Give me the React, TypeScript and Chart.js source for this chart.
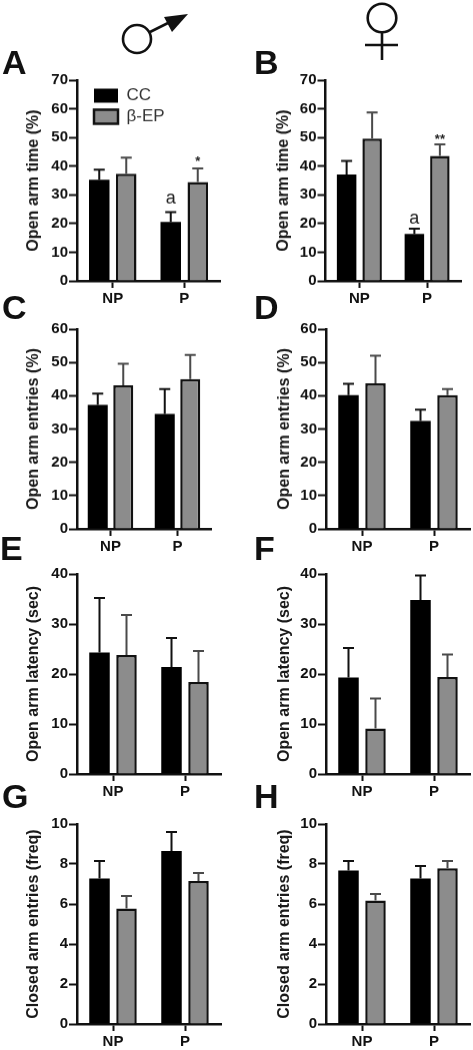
import React, { useEffect, useRef } from "react";
import { Chart, registerables } from "chart.js";

Chart.register(...registerables);

const categories = ["NP", "P"];
const seriesNames = ["CC", "β-EP"];

const aCC = [35.3, 20.6];
const aCCTop = [38.8, 24];
const aEP = [37.4, 34.5];
const aEPTop = [43, 39.2];

const bCC = [37.1, 16.4];
const bCCTop = [41.8, 18.2];
const bEP = [49.6, 43.6];
const bEPTop = [58.7, 47.6];

const cCC = [37.2, 34.5];
const cCCTop = [40.6, 42];
const cEP = [43.1, 45];
const cEPTop = [49.6, 52.2];

const dCC = [40.2, 32.4];
const dCCTop = [43.6, 35.8];
const dEP = [43.7, 40.2];
const dEPTop = [52, 42];

const eCC = [24.3, 21.4];
const eCCTop = [35.2, 27.2];
const eEP = [23.8, 18.4];
const eEPTop = [31.8, 24.6];

const fCC = [19.3, 34.8];
const fCCTop = [25.2, 39.7];
const fEP = [9.1, 19.4];
const fEPTop = [15.1, 23.9];

const gCC = [7.28, 8.65];
const gCCTop = [8.15, 9.6];
const gEP = [5.78, 7.15];
const gEPTop = [6.4, 7.55];

const hCC = [7.67, 7.28];
const hCCTop = [8.15, 7.9];
const hEP = [6.17, 7.79];
const hEPTop = [6.5, 8.15];

const aNotes = [
  { dataset: 0, index: 1, value: 27, text: "a", font: "400 18px 'Liberation Sans'" },
  { dataset: 1, index: 1, value: 40.3, text: "*", font: "700 13px 'Liberation Sans'" },
];
const bNotes = [
  { dataset: 0, index: 1, value: 20, text: "a", font: "400 18px 'Liberation Sans'" },
  { dataset: 1, index: 1, value: 48, text: "**", font: "700 13px 'Liberation Sans'" },
];

const panels = [
  { title: "Open arm time (%)", max: 70, step: 10, cc: aCC, ccTop: aCCTop, ep: aEP, epTop: aEPTop, notes: aNotes, legend: true, left: 0, axisX: 77, right: 220, top: 80, bottom: 280.5, slot: 27, bar: 20.5 },
  { title: "Open arm time (%)", max: 70, step: 10, cc: bCC, ccTop: bCCTop, ep: bEP, epTop: bEPTop, notes: bNotes, legend: false, left: 236, axisX: 325.5, right: 461, top: 80, bottom: 280.5, slot: 25.5, bar: 19.5 },
  { title: "Open arm entries (%)", max: 60, step: 10, cc: cCC, ccTop: cCCTop, ep: cEP, epTop: cEPTop, notes: [], legend: false, left: 0, axisX: 77, right: 211, top: 329, bottom: 528.5, slot: 25.5, bar: 20 },
  { title: "Open arm entries (%)", max: 60, step: 10, cc: dCC, ccTop: dCCTop, ep: dEP, epTop: dEPTop, notes: [], legend: false, left: 236, axisX: 326, right: 470, top: 329, bottom: 528.5, slot: 27, bar: 20.5 },
  { title: "Open arm latency (sec)", max: 40, step: 10, cc: eCC, ccTop: eCCTop, ep: eEP, epTop: eEPTop, notes: [], legend: false, left: 0, axisX: 77, right: 221, top: 574, bottom: 774, slot: 27, bar: 20.5 },
  { title: "Open arm latency (sec)", max: 40, step: 10, cc: fCC, ccTop: fCCTop, ep: fEP, epTop: fEPTop, notes: [], legend: false, left: 236, axisX: 326, right: 470, top: 574, bottom: 774, slot: 27, bar: 20.5 },
  { title: "Closed arm entries (freq)", max: 10, step: 2, cc: gCC, ccTop: gCCTop, ep: gEP, epTop: gEPTop, notes: [], legend: false, left: 0, axisX: 77, right: 221, top: 824, bottom: 1024, slot: 27, bar: 20.5 },
  { title: "Closed arm entries (freq)", max: 10, step: 2, cc: hCC, ccTop: hCCTop, ep: hEP, epTop: hEPTop, notes: [], legend: false, left: 236, axisX: 326, right: 470, top: 824, bottom: 1024, slot: 27, bar: 20.5 },
];

const letters = [
  { t: "A", x: 2, y: 74 },
  { t: "B", x: 254, y: 74 },
  { t: "C", x: 2, y: 319 },
  { t: "D", x: 254, y: 319 },
  { t: "E", x: 0, y: 560 },
  { t: "F", x: 254, y: 560 },
  { t: "G", x: 2, y: 808 },
  { t: "H", x: 254, y: 808 },
];

const FONT = "'Liberation Sans', Arial, sans-serif";
const CANVAS_W = 237;

const errorBars = {
  id: "errorBars",
  afterDatasetsDraw(chart: any) {
    const { ctx } = chart;
    const y = chart.scales.y;
    chart.data.datasets.forEach((ds: any, di: number) => {
      const meta = chart.getDatasetMeta(di);
      meta.data.forEach((bar: any, i: number) => {
        const yTop = y.getPixelForValue(ds.errorTops[i]);
        ctx.save();
        ctx.strokeStyle = ds.errorColor;
        ctx.lineWidth = 2;
        ctx.beginPath();
        ctx.moveTo(bar.x, bar.y);
        ctx.lineTo(bar.x, yTop);
        ctx.moveTo(bar.x - 5.5, yTop);
        ctx.lineTo(bar.x + 5.5, yTop);
        ctx.stroke();
        ctx.restore();
      });
    });
  },
};

const notesPlugin = {
  id: "notes",
  afterDraw(chart: any, _args: any, opts: any) {
    const { ctx } = chart;
    (opts.items || []).forEach((n: any) => {
      const bar = chart.getDatasetMeta(n.dataset).data[n.index];
      ctx.save();
      ctx.font = n.font;
      ctx.fillStyle = "#222";
      ctx.textAlign = "center";
      ctx.textBaseline = "alphabetic";
      ctx.fillText(n.text, bar.x, chart.scales.y.getPixelForValue(n.value));
      ctx.restore();
    });
  },
};

const legendShift = {
  id: "legendShift",
  afterLayout(chart: any) {
    if (chart.legend && chart.options.plugins.legend.display) {
      chart.legend.left += 13;
      chart.legend.top += 15;
    }
  },
};

function Panel({ p }: { p: (typeof panels)[number] }) {
  const ref = useRef<HTMLCanvasElement>(null);
  const canvasTop = p.top - 12;
  const canvasH = p.bottom - canvasTop + 28;
  useEffect(() => {
    const catW = (p.right - p.axisX) / 2;
    const chart = new Chart(ref.current as HTMLCanvasElement, {
      type: "bar",
      data: {
        labels: categories,
        datasets: [
          { label: seriesNames[0], data: p.cc, errorTops: p.ccTop, errorColor: "#111", backgroundColor: "#000", borderColor: "#000", borderWidth: 0 },
          { label: seriesNames[1], data: p.ep, errorTops: p.epTop, errorColor: "#4a4a4a", backgroundColor: "#8c8c8c", borderColor: "#111", borderWidth: 2.5 },
        ] as any,
      },
      plugins: [errorBars, notesPlugin, legendShift],
      options: {
        responsive: false,
        animation: false,
        layout: { padding: { left: 0, top: p.top - canvasTop, right: p.left + CANVAS_W - p.right, bottom: 0 } },
        datasets: {
          bar: {
            categoryPercentage: (2 * p.slot) / catW,
            barPercentage: p.bar / p.slot,
          },
        },
        plugins: {
          tooltip: { enabled: false },
          legend: {
            display: p.legend,
            position: "chartArea",
            align: "start",
            labels: {
              boxWidth: 24,
              boxHeight: 14,
              padding: 4,
              color: "#333",
              font: { family: FONT, size: 17 },
            },
          },
          notes: { items: p.notes },
        } as any,
        scales: {
          x: {
            afterFit(scale: any) {
              scale.height = canvasTop + canvasH - p.bottom;
            },
            border: { color: "#111", width: 2.5 },
            grid: { offset: false, drawOnChartArea: false, drawTicks: true, tickLength: 7, tickWidth: 2, tickColor: "#111" },
            ticks: { color: "#111", padding: 2, font: { family: FONT, size: 15, weight: "bold" }, maxRotation: 0 },
          },
          y: {
            min: 0,
            max: p.max,
            afterFit(scale: any) {
              scale.width = p.axisX - p.left;
            },
            border: { color: "#111", width: 2.5 },
            grid: { drawOnChartArea: false, drawTicks: true, tickLength: 8, tickWidth: 2, tickColor: "#111" },
            ticks: { stepSize: p.step, color: "#111", padding: 1, font: { family: FONT, size: 15, weight: "bold" } },
            title: {
              display: true,
              text: p.title,
              color: "#1a1a1a",
              font: { family: FONT, size: 16, weight: "bold" },
              padding: { top: p.axisX - p.left - 45 - (p.left ? 6.5 : 8.5), bottom: 0 },
            },
          },
        },
      },
    });
    return () => chart.destroy();
  }, []);
  return (
    <canvas
      ref={ref}
      width={CANVAS_W}
      height={canvasH}
      style={{ position: "absolute", left: p.left, top: canvasTop, width: CANVAS_W, height: canvasH }}
    />
  );
}

export default function App() {
  return (
    <div style={{ position: "absolute", left: 0, top: 0, width: 473, height: 1050, background: "#fff", overflow: "hidden", filter: "blur(0.45px)" }}>
      {panels.map((p, i) => (
        <Panel key={i} p={p} />
      ))}
      <svg width={473} height={1050} style={{ position: "absolute", left: 0, top: 0, pointerEvents: "none" }}>
        {letters.map((l) => (
          <text key={l.t} x={l.x} y={l.y} fontFamily={FONT} fontWeight={700} fontSize={34} fill="#111">
            {l.t}
          </text>
        ))}
        <g fill="none" stroke="#111" strokeWidth={2.6}>
          <circle cx={137} cy={39} r={14} />
          <line x1={150} y1={32} x2={170} y2={22} />
          <circle cx={382} cy={18} r={14.3} />
          <line x1={382} y1={32} x2={382} y2={60} />
          <line x1={365} y1={45} x2={398} y2={45} />
        </g>
        <polygon points="188,14 164,17 172,32" fill="#111" />
      </svg>
    </div>
  );
}
